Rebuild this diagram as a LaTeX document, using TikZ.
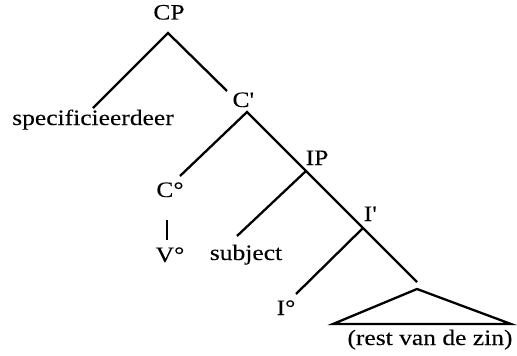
\documentclass[tikz,border=0pt]{standalone}
\usepackage{fontspec}
\setmainfont{Liberation Serif}[FakeStretch=1.16,FakeBold=0.1]
\begin{document}
\begin{tikzpicture}[x=1pt,y=-1pt,
  lbl/.style={anchor=base,inner sep=0pt,font=\fontsize{22}{26}\selectfont},
  br/.style={line width=2.3pt,line cap=butt,line join=miter}]
\useasboundingbox (0,0) rectangle (517,356);
% labels
\node[lbl] (cp) at (169,19.5) {CP};
\node[lbl] (spec) at (93,125) {specificieerdeer};
\node[lbl] (cbar) at (243,107) {C\textquotesingle};
\node[lbl] (ip) at (317,165) {IP};
\node[lbl] (ibar) at (370,221) {I\textquotesingle};
\node[lbl] (c0) at (170,197) {C°};
\node[lbl] (v0) at (170,262) {V°};
\node[lbl] (subj) at (246,260) {subject};
\node[lbl] (i0) at (286,315) {I°};
\node[lbl] (rest) at (430,345) {(rest van de zin)};
% branch points
\coordinate (cpA) at (168,33);
\coordinate (specE) at (93,108);
\coordinate (cbarE) at (227,91);
\coordinate (cbarA) at (247,112);
\coordinate (c0E) at (180,176);
\coordinate (ipA) at (306,171);
\coordinate (subjE) at (237,236);
\coordinate (ibarA) at (363,228);
\coordinate (i0E) at (296,294);
\coordinate (triE) at (417,282);
\coordinate (vT) at (167,220);
\coordinate (vB) at (167,240);
\coordinate (triT) at (417,289);
\coordinate (triL) at (333,324);
\coordinate (triR) at (511,324);
% connectors
\draw[br] (specE) -- (cpA) -- (cbarE);
\draw[br] (c0E) -- (cbarA) -- (ipA) -- (ibarA) -- (triE);
\draw[br] (subjE) -- (ipA);
\draw[br] (i0E) -- (ibarA);
\draw[br] (vT) -- (vB);
\draw[br] (triT) -- (triL) -- (triR) -- cycle;
\end{tikzpicture}
\end{document}
